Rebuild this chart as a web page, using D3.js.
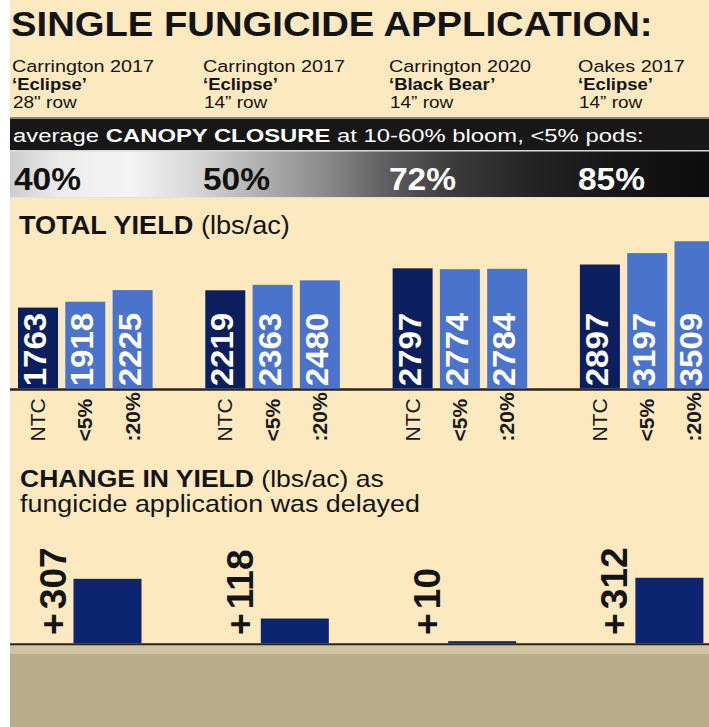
<!DOCTYPE html>
<html>
<head>
<meta charset="utf-8">
<script src="https://cdn.jsdelivr.net/npm/d3@7"></script>
<style>
  html, body { margin: 0; padding: 0; background: #ffffff; }
  svg { display: block; }
</style>
</head>
<body>
<svg id="chart" width="709" height="727"></svg>
<script>
// ---- data ----
const sites = ["Carrington 2017", "Carrington 2017", "Carrington 2020", "Oakes 2017"];
const cultivars = ["‘Eclipse’", "‘Eclipse’", "‘Black Bear’", "‘Eclipse’"];
const rowWidths = ["28\" row", "14” row", "14” row", "14” row"];
const canopyClosure = [40, 50, 72, 85];
const treatments = ["NTC", "<5%", ":20%"];
const yieldNTC = [1763, 2219, 2797, 2897];
const yieldEarly = [1918, 2363, 2774, 3197];
const yieldLate = [2225, 2480, 2784, 3509];
const yieldChange = [307, 118, 10, 312];

// ---- setup ----
const W = 709, H = 727;
const FONT = "'Liberation Sans', Arial, Helvetica, sans-serif";
const INK = "#141414";
const CREAM = "#fce9bf";
const NAVY = "#0b1f5e";
const BLUE = "#4a73cc";
const svg = d3.select("#chart");

// Text in a slightly wide face: each label may be stretched along its own direction
function addText(parent, o) {
  const g = parent.append("g");
  const t = g.append("text")
    .attr("font-family", FONT)
    .attr("font-size", o.size)
    .attr("fill", o.fill || INK);
  o.parts.forEach(p => t.append("tspan")
    .attr("font-weight", p.bold ? "bold" : "normal")
    .attr("dx", p.dx || null)
    .text(p.t));
  const natural = t.node().getComputedTextLength();
  const sx = o.width ? o.width / natural : (o.sx || 1);
  g.attr("transform", `translate(${o.x},${o.y}) rotate(${o.angle || 0}) scale(${sx},1)`);
  return g;
}

// ---- background ----
svg.append("rect").attr("x", 10).attr("y", 0).attr("width", W - 10).attr("height", H).attr("fill", CREAM);
svg.append("rect").attr("x", 10).attr("y", 645).attr("width", W - 10).attr("height", 10).attr("fill", "#d0c4a3");
svg.append("rect").attr("x", 10).attr("y", 654).attr("width", W - 10).attr("height", H - 654).attr("fill", "#b8ac8c");

// ---- scales ----
const groupX = d3.scaleBand().domain(d3.range(sites.length)).range([18, 18 + 4 * 187.3]);
const treatX = d3.scaleBand().domain(treatments).range([0, 134.6]).paddingInner(0.154);
const yYield = d3.scaleLinear().domain([-360, 3600]).range([388.3, 237.8]);
const yChange = d3.scaleLinear().domain([0, 400]).range([643.3, 559.3]);

// ---- title ----
addText(svg, { x: 11, y: 36, size: 36, parts: [{ t: "SINGLE FUNGICIDE APPLICATION:", bold: true }], width: 642 });

// ---- site headers ----
const colX = [12, 203, 389, 578];
sites.forEach((s, i) => {
  addText(svg, { x: colX[i], y: 71.5, size: 16.5, parts: [{ t: s }], sx: 1.2 });
  addText(svg, { x: colX[i], y: 89.5, size: 16.5, parts: [{ t: cultivars[i], bold: true }], sx: 1.12 });
  addText(svg, { x: colX[i] + 1, y: 107.5, size: 16.5, parts: [{ t: rowWidths[i] }], sx: 1.15 });
});

// ---- canopy closure band ----
svg.append("rect").attr("x", 10).attr("y", 117).attr("width", W - 10).attr("height", 2).attr("fill", "#8a8578");
svg.append("rect").attr("x", 10).attr("y", 119).attr("width", W - 10).attr("height", 31).attr("fill", "#171717");
addText(svg, {
  x: 13, y: 141.5, size: 18.5, fill: "#ffffff", width: 631,
  parts: [{ t: "average " }, { t: "CANOPY CLOSURE", bold: true }, { t: " at 10-60% bloom, <5% pods:" }]
});

const defs = svg.append("defs");
const grad = defs.append("linearGradient").attr("id", "canopyGrad")
  .attr("gradientUnits", "userSpaceOnUse").attr("x1", 10).attr("x2", W).attr("y1", 0).attr("y2", 0);
[[10, "#cdcdcd"], [60, "#ececec"], [130, "#f4f4f4"], [200, "#d4d4d4"], [260, "#b0b0b0"],
 [330, "#878787"], [390, "#5c5c5c"], [460, "#383838"], [540, "#222222"], [620, "#161616"], [709, "#0c0c0c"]]
  .forEach(([x, c]) => grad.append("stop").attr("offset", (x - 10) / (W - 10)).attr("stop-color", c));

svg.append("rect").attr("x", 10).attr("y", 150).attr("width", W - 10).attr("height", 1.5).attr("fill", "#d6d6d6");
svg.append("rect").attr("x", 10).attr("y", 151.5).attr("width", W - 10).attr("height", 45.5).attr("fill", "url(#canopyGrad)");
svg.append("rect").attr("x", 10).attr("y", 197).attr("width", W - 10).attr("height", 1.2).attr("fill", "#e4e1d8");

const pctX = [14, 203, 389, 578];
canopyClosure.forEach((v, i) => {
  addText(svg, {
    x: pctX[i], y: 189.5, size: 31, width: 67,
    fill: i < 2 ? "#111111" : "#ffffff",
    parts: [{ t: v + "%", bold: true }]
  });
});

// ---- total yield ----
addText(svg, { x: 19, y: 234, size: 26, width: 271, parts: [{ t: "TOTAL YIELD", bold: true }, { t: " (lbs/ac)" }] });

const yieldRows = sites.map((s, i) => [
  { treat: treatments[0], v: yieldNTC[i], fill: NAVY },
  { treat: treatments[1], v: yieldEarly[i], fill: BLUE },
  { treat: treatments[2], v: yieldLate[i], fill: BLUE }
]);

svg.append("line")
  .attr("x1", 10).attr("x2", W).attr("y1", 389.5).attr("y2", 389.5)
  .attr("stroke", "#262626").attr("stroke-width", 2.4);

const groups = svg.selectAll("g.site").data(yieldRows).join("g")
  .attr("class", "site")
  .attr("transform", (d, i) => `translate(${groupX(i)},0)`);

groups.selectAll("rect").data(d => d).join("rect")
  .attr("x", d => treatX(d.treat))
  .attr("width", treatX.bandwidth())
  .attr("y", d => yYield(d.v))
  .attr("height", d => yYield.range()[0] - yYield(d.v))
  .attr("fill", d => d.fill);

groups.each(function (rows) {
  const g = d3.select(this);
  rows.forEach(d => {
    const cx = treatX(d.treat) + treatX.bandwidth() / 2;
    // value inside the bar
    addText(g, { x: cx + 8, y: yYield.range()[0] - 2, angle: -90, size: 31.5, sx: 1.05, fill: "#ffffff", parts: [{ t: String(d.v), bold: true }] });
    // treatment label under the axis
    addText(g, { x: cx + 7, y: 441.5, angle: -90, size: 19.5, sx: 1.08, fill: "#1a1a1a", parts: [{ t: d.treat, bold: d.treat !== "NTC" }] });
  });
});

// ---- change in yield ----
addText(svg, { x: 20, y: 487, size: 24, width: 364, parts: [{ t: "CHANGE IN YIELD", bold: true }, { t: " (lbs/ac) as" }] });
addText(svg, { x: 20, y: 511.5, size: 24, width: 400, parts: [{ t: "fungicide application was delayed" }] });

svg.append("line")
  .attr("x1", 10).attr("x2", W).attr("y1", 644.3).attr("y2", 644.3)
  .attr("stroke", "#2a2418").attr("stroke-width", 2);

const changeLeft = i => groupX(i) + 55.5;
svg.selectAll("rect.change").data(yieldChange).join("rect")
  .attr("class", "change")
  .attr("x", (d, i) => changeLeft(i))
  .attr("width", 68)
  .attr("y", d => yChange(d))
  .attr("height", d => yChange(0) - yChange(d))
  .attr("fill", "#0d2470");

yieldChange.forEach((v, i) => {
  addText(svg, { x: changeLeft(i) - 8, y: 635, angle: -90, size: 36, sx: 1.03, parts: [{ t: "+", bold: true }, { t: String(v), bold: true, dx: 4 }] });
});
</script>
</body>
</html>
